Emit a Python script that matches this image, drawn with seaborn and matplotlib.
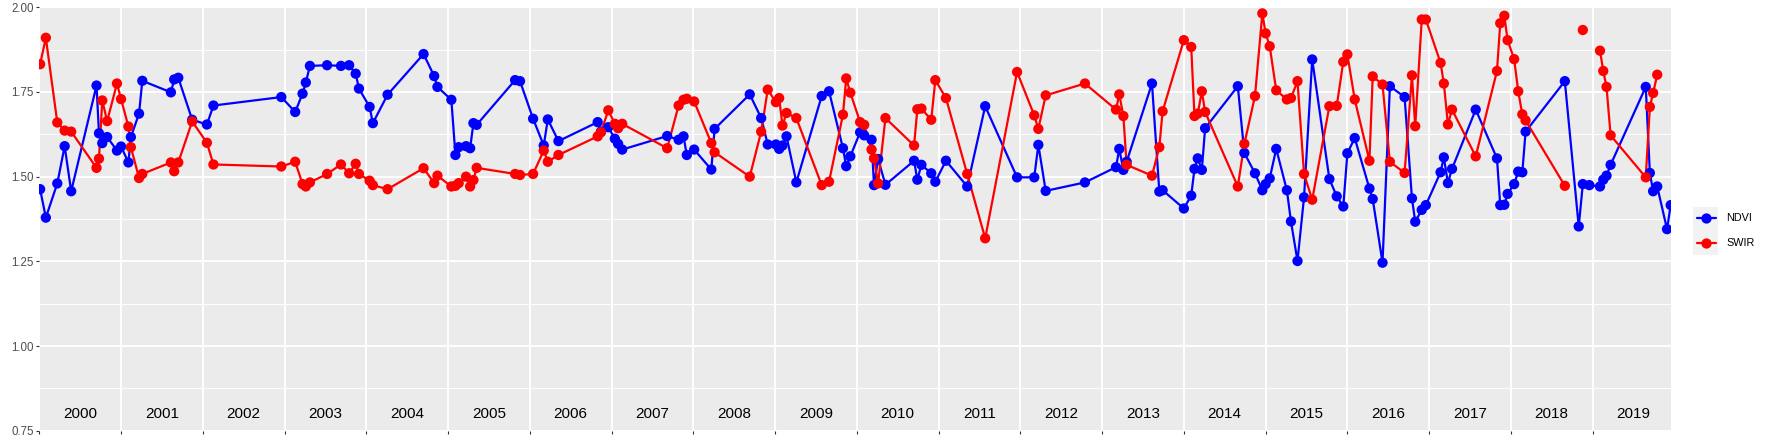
import numpy as np
import pandas as pd
import seaborn as sns
import matplotlib.pyplot as plt
from matplotlib.patches import Rectangle
from matplotlib.lines import Line2D

# acquisition dates (decimal years) shared by both bands
dates = [
    2000.01, 2000.08, 2000.22, 2000.31, 2000.39, 2000.70, 2000.73, 2000.77, 2000.83, 2000.95,
    2001.00, 2001.09, 2001.12, 2001.22, 2001.26, 2001.61, 2001.65, 2001.70, 2001.87, 2002.05,
    2002.13, 2002.96, 2003.13, 2003.22, 2003.26, 2003.31, 2003.52, 2003.69, 2003.79, 2003.87,
    2003.91, 2004.04, 2004.08, 2004.26, 2004.70, 2004.83, 2004.87, 2005.04, 2005.09, 2005.13,
    2005.22, 2005.27, 2005.31, 2005.35, 2005.82, 2005.88, 2006.04, 2006.17, 2006.22, 2006.35,
    2006.83, 2006.87, 2006.96, 2007.04, 2007.08, 2007.13, 2007.68, 2007.82, 2007.88, 2007.92,
    2008.01, 2008.22, 2008.26, 2008.69, 2008.83, 2008.91, 2009.01, 2009.05, 2009.09, 2009.14,
    2009.26, 2009.57, 2009.66, 2009.83, 2009.87, 2009.92, 2010.04, 2010.09, 2010.18, 2010.21,
    2010.26, 2010.35, 2010.70, 2010.74, 2010.79, 2010.91, 2010.96, 2011.09, 2011.35, 2011.57,
    2011.96, 2012.17, 2012.22, 2012.31, 2012.79, 2013.17, 2013.21, 2013.26, 2013.30, 2013.61,
    2013.70, 2013.74, 2014.00, 2014.09, 2014.13, 2014.17, 2014.22, 2014.26, 2014.66, 2014.74,
    2014.87, 2014.96, 2015.00, 2015.05, 2015.13, 2015.26, 2015.31, 2015.39, 2015.47, 2015.57,
    2015.78, 2015.87, 2015.95, 2016.00, 2016.09, 2016.27, 2016.31, 2016.43, 2016.52, 2016.70,
    2016.79, 2016.83, 2016.91, 2016.96, 2017.14, 2017.18, 2017.23, 2017.28, 2017.57, 2017.83,
    2017.87, 2017.92, 2017.96, 2018.04, 2018.09, 2018.14, 2018.18, 2018.66, 2018.83, 2018.88,
    2018.96, 2019.09, 2019.13, 2019.17, 2019.22, 2019.65, 2019.70, 2019.74, 2019.79, 2019.91,
    2019.955,
]

ndvi = [
    1.463, 1.379, 1.480, 1.590, 1.457, 1.769, 1.628, 1.599, 1.617, 1.577,
    1.589, 1.542, 1.617, 1.686, 1.783, 1.749, 1.787, 1.792, 1.668, 1.654,
    1.710, 1.735, 1.691, 1.745, 1.778, 1.827, 1.829, 1.827, 1.829, 1.804,
    1.760, 1.706, 1.658, 1.742, 1.862, 1.797, 1.765, 1.727, 1.564, 1.587,
    1.590, 1.584, 1.658, 1.653, 1.785, 1.782, 1.671, 1.592, 1.669, 1.605,
    1.661, 1.633, 1.646, 1.612, 1.597, 1.580, 1.620, 1.609, 1.619, 1.564,
    1.580, 1.521, 1.641, 1.743, 1.673, 1.595, 1.595, 1.582, 1.592, 1.619,
    1.483, 1.738, 1.752, 1.584, 1.531, 1.560, 1.631, 1.622, 1.609, 1.475,
    1.552, 1.476, 1.547, 1.491, 1.535, 1.510, 1.485, 1.547, 1.471, 1.708,
    1.498, 1.498, 1.594, 1.458, 1.483, 1.528, 1.582, 1.520, 1.544, 1.775,
    1.456, 1.460, 1.406, 1.444, 1.523, 1.554, 1.520, 1.643, 1.767, 1.570,
    1.510, 1.460, 1.478, 1.495, 1.582, 1.460, 1.368, 1.251, 1.439, 1.846,
    1.493, 1.442, 1.412, 1.569, 1.614, 1.465, 1.434, 1.246, 1.767, 1.735,
    1.436, 1.367, 1.402, 1.416, 1.513, 1.557, 1.481, 1.523, 1.698, 1.554,
    1.416, 1.417, 1.449, 1.478, 1.515, 1.513, 1.633, 1.782, 1.353, 1.478,
    1.475, 1.471, 1.491, 1.503, 1.535, 1.765, 1.511, 1.457, 1.471, 1.345,
    1.416,
]

nan = np.nan
swir = [
    1.832, 1.910, 1.660, 1.636, 1.633, 1.526, 1.553, 1.725, 1.664, 1.775,
    1.729, 1.648, 1.587, 1.496, 1.508, 1.542, 1.516, 1.542, 1.663, 1.600,
    1.536, 1.530, 1.544, 1.478, 1.471, 1.483, 1.508, 1.536, 1.510, 1.538,
    1.508, 1.488, 1.475, 1.463, 1.525, 1.481, 1.503, 1.471, 1.473, 1.481,
    1.500, 1.471, 1.490, 1.526, 1.508, 1.505, 1.508, 1.577, 1.544, 1.564,
    1.619, 1.631, 1.696, 1.656, 1.643, 1.656, 1.584, 1.710, 1.727, 1.730,
    1.722, 1.599, 1.572, 1.500, 1.633, 1.757, 1.720, 1.732, 1.651, 1.688,
    1.673, 1.475, 1.485, 1.683, 1.790, 1.748, 1.661, 1.653, 1.580, 1.554,
    1.480, 1.673, 1.592, 1.699, 1.701, 1.668, 1.785, 1.732, 1.508, 1.318,
    1.809, 1.681, 1.641, 1.740, 1.775, 1.698, 1.743, 1.679, 1.535, 1.503,
    1.587, 1.693, 1.903, 1.883, 1.679, 1.686, 1.752, 1.691, 1.471, 1.597,
    1.738, 1.982, 1.923, 1.885, 1.755, 1.728, 1.732, 1.782, 1.508, 1.432,
    1.708, 1.709, 1.839, 1.861, 1.728, 1.547, 1.796, 1.772, 1.544, 1.511,
    1.799, 1.649, 1.964, 1.964, 1.836, 1.775, 1.654, 1.698, 1.560, 1.812,
    1.953, 1.975, 1.903, 1.847, 1.752, 1.684, 1.666, 1.473, nan, 1.933,
    nan, 1.872, 1.812, 1.765, 1.622, 1.498, 1.706, 1.747, 1.801, nan,
    nan,
]

years = list(range(2000, 2020))
bands = ["NDVI", "SWIR"]
colors = {"NDVI": "#0000FF", "SWIR": "#FF0000"}

# long table, missing values split the line into separate pieces
frames = []
for band, vals in zip(bands, [ndvi, swir]):
    d = pd.DataFrame({"date": dates, "value": vals, "band": band})
    d["seg"] = band + d["value"].isna().cumsum().astype(str)
    frames.append(d.dropna())
df = pd.concat(frames, ignore_index=True)

sns.set_theme(style="darkgrid", rc={
    "axes.facecolor": "#EBEBEB",
    "grid.color": "white",
    "axes.edgecolor": "#EBEBEB",
})
plt.rcParams["font.family"] = ["Liberation Sans", "DejaVu Sans"]

W, H = 1773, 442
fig = plt.figure(figsize=(W / 100, H / 100), dpi=100)
ax = fig.add_axes([39.3 / W, 1 - 430.7 / H, (1670.7 - 39.3) / W, (430.7 - 7.3) / H])

sns.lineplot(data=df, x="date", y="value", hue="band", units="seg", estimator=None,
             sort=False, palette=colors, linewidth=1.6, legend=False, ax=ax, zorder=3)
sns.scatterplot(data=df, x="date", y="value", hue="band", palette=colors, s=55,
                linewidth=0, legend=False, ax=ax, zorder=4)

# year labels inside the panel
for y in years:
    ax.text(y + 0.5, 0.8, str(y), ha="center", va="center", fontsize=11, color="black")

ax.set_xlim(dates[0], dates[-1])
ax.set_ylim(0.75, 2.0)
ax.set_xticks(years)
ax.set_xticklabels([""] * len(years))
ax.set_yticks([0.75, 1.0, 1.25, 1.5, 1.75, 2.0])
ax.set_yticklabels(["0.75", "1.00", "1.25", "1.50", "1.75", "2.00"])
ax.set_yticks([0.875, 1.125, 1.375, 1.625, 1.875], minor=True)
ax.grid(which="major", color="white", linewidth=1.4)
ax.grid(which="minor", axis="y", color="white", linewidth=0.7)
ax.grid(which="minor", axis="x", visible=False)
ax.set_xlabel("")
ax.set_ylabel("")
ax.tick_params(which="major", bottom=True, left=True, length=2.5, width=0.8,
               color="#333333", labelsize=8.3, labelcolor="#4D4D4D", pad=1.5)
ax.tick_params(which="minor", length=0)
for s in ax.spines.values():
    s.set_visible(False)

# legend (keys on a light grey box, no title)
fig.add_artist(Rectangle((1693.3 / W, 1 - 255 / H), 25 / W, 48.3 / H,
                         transform=fig.transFigure, facecolor="#F2F2F2", edgecolor="none"))
for band, ypx in zip(bands, [218.3, 243.3]):
    yf = 1 - ypx / H
    fig.add_artist(Line2D([1696.5 / W, 1715.5 / W], [yf, yf], color=colors[band],
                          linewidth=1.6, transform=fig.transFigure))
    fig.add_artist(Line2D([1706 / W], [yf], color=colors[band], marker="o",
                          markersize=7.4, markeredgewidth=0, transform=fig.transFigure))
    fig.text(1726.5 / W, yf, band, ha="left", va="center", fontsize=7.8, color="black")

fig.savefig("out.png", dpi=100)
